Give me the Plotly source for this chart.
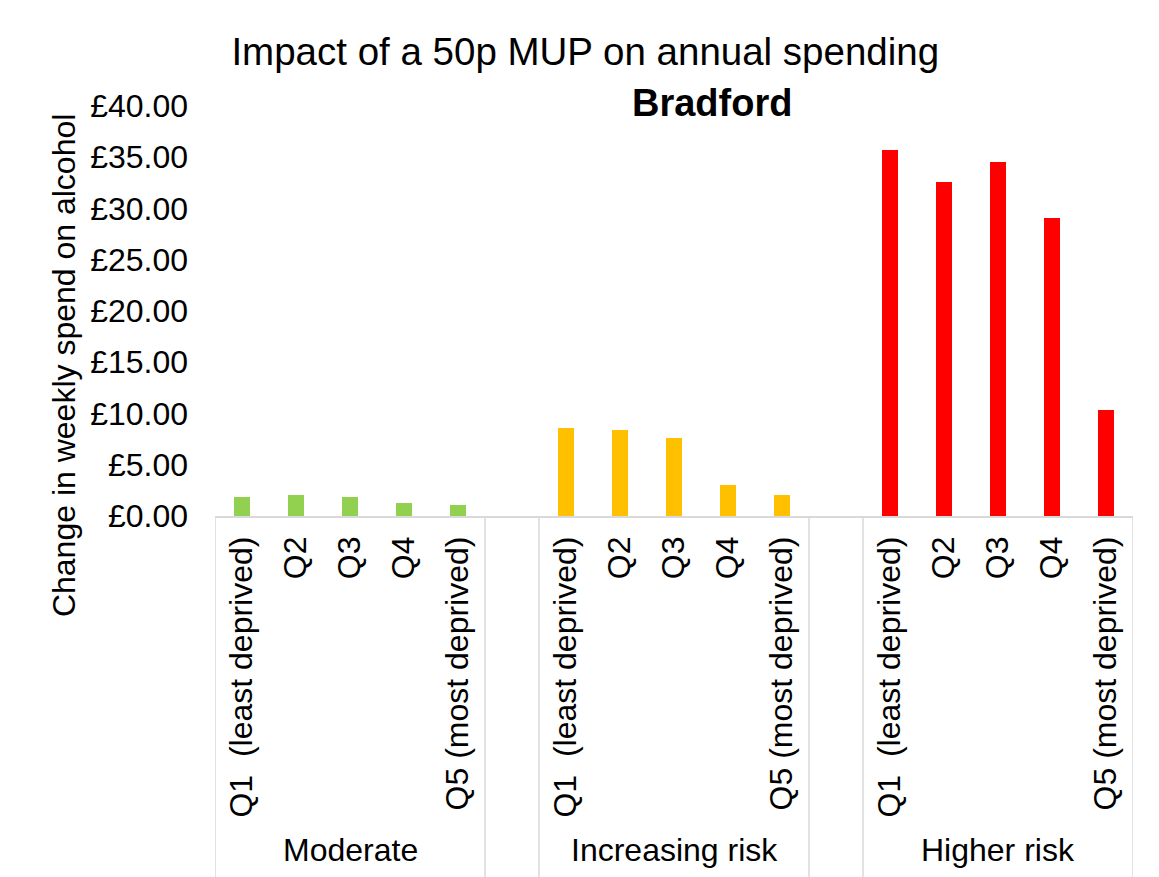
import plotly.graph_objects as go

# ---- data ----
groups = ["Moderate", "Increasing risk", "Higher risk"]
quintiles = ["Q1  (least deprived)", "Q2", "Q3", "Q4", "Q5 (most deprived)"]
moderate = [1.85, 2.05, 1.85, 1.27, 1.07]
increasing = [8.6, 8.4, 7.6, 3.0, 2.05]
higher = [35.7, 32.6, 34.5, 29.1, 10.3]
colors = ["#92D050", "#FFC000", "#FF0000"]
yticks = [0, 5, 10, 15, 20, 25, 30, 35, 40]

series = [moderate, increasing, higher]
FONT = "Liberation Sans, Arial, sans-serif"
FS = 32

fig = go.Figure()
tickvals, ticktext = [], []
pos = 0
group_centers = []
separators = [-0.5]
for g, vals, col in zip(groups, series, colors):
    xs = list(range(pos, pos + len(vals)))
    fig.add_trace(go.Bar(x=xs, y=vals, marker=dict(color=col, line=dict(width=0)),
                         width=0.3, name=g, showlegend=False))
    tickvals += xs
    ticktext += quintiles
    group_centers.append((xs[0] + xs[-1]) / 2)
    separators += [xs[-1] + 0.5]
    pos = xs[-1] + 2
    if pos <= 16:
        separators += [pos - 0.5]

xmin, xmax = -0.5, pos - 1.5

for s in separators:
    fig.add_shape(type="line", xref="x", yref="paper", x0=s, x1=s, y0=0, y1=-0.9,
                  line=dict(color="#D9D9D9", width=1.5), layer="below")

for g, c in zip(groups, group_centers):
    fig.add_annotation(x=c, y=-0.815, xref="x", yref="paper", text=g, showarrow=False,
                       font=dict(family=FONT, size=FS, color="black"),
                       xanchor="center", yanchor="middle")

fig.add_annotation(x=-0.1645, y=0.368, xref="paper", yref="paper",
                   text="Change in weekly spend on alcohol", textangle=-90, showarrow=False,
                   font=dict(family=FONT, size=FS, color="black"),
                   xanchor="center", yanchor="middle")

fig.add_annotation(x=0.541, y=1.007, xref="paper", yref="paper", text="<b>Bradford</b>",
                   showarrow=False, font=dict(family=FONT, size=38, color="black"),
                   xanchor="center", yanchor="middle")

fig.update_layout(
    width=1159, height=877,
    margin=dict(l=215, r=26, t=106, b=361),
    paper_bgcolor="white", plot_bgcolor="white",
    title=dict(text="Impact of a 50p MUP on annual spending", xref="container", x=0.505,
               y=1 - 52 / 877, xanchor="center", yanchor="middle",
               font=dict(family=FONT, size=38.5, color="black")),
    bargap=0,
    xaxis=dict(range=[xmin, xmax], tickmode="array", tickvals=tickvals, ticktext=ticktext,
               tickangle=-90, showgrid=False, zeroline=False, showline=True,
               linecolor="#D9D9D9", linewidth=1.5, ticks="", ticklabelstandoff=6,
               tickfont=dict(family=FONT, size=FS, color="black")),
    yaxis=dict(range=[0, 40], tickmode="array", tickvals=yticks,
               ticktext=[f"£{v:.2f}" for v in yticks], showgrid=False, zeroline=False,
               showline=False, ticks="", ticklabelstandoff=26,
               tickfont=dict(family=FONT, size=FS, color="black")),
)

fig.write_html("out.html", post_script="document.body.style.margin='0';",
               config={"displayModeBar": False})
